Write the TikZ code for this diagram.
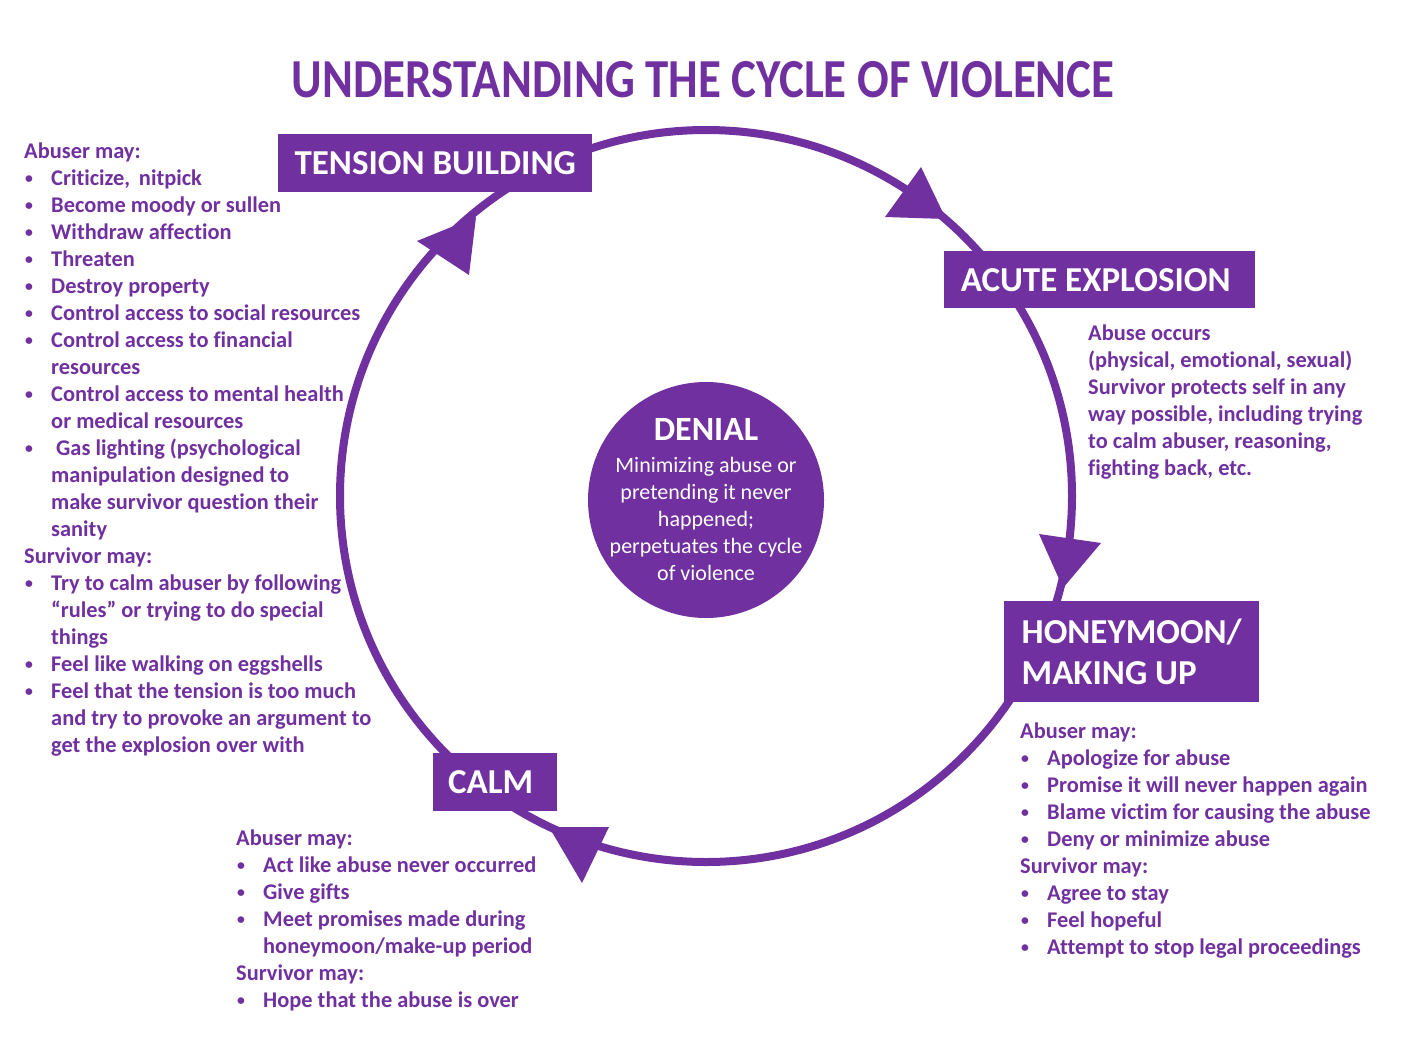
\documentclass[tikz,border=0pt]{standalone}
\usepackage{fontspec}
\setmainfont{Carlito}[Ligatures=CommonOff]
\definecolor{cyclepurple}{HTML}{7030A0}
\newcommand{\bul}[1]{\makebox[27pt][l]{\hspace{1pt}\raisebox{1.5pt}{\scalebox{0.7}{\textbullet}}}#1}
\newcommand{\cont}[1]{\hspace*{27pt}#1}

\begin{document}
\begin{tikzpicture}[
    x = 1pt, y = -1pt, % one unit per pixel, y runs down
    ring/.style = {draw = cyclepurple, line width = 8pt, circle,
        minimum size = 732pt, inner sep = 0pt, outer sep = 0pt},
    phase/.style = {fill = cyclepurple, text = white, anchor = north west,
        align = left, inner sep = 0pt, minimum height = 58pt,
        font = \fontsize{35}{41}\selectfont\bfseries},
    notes/.style = {anchor = north west, align = left, inner sep = 0pt,
        text = cyclepurple, font = \fontsize{22.4}{27}\selectfont\bfseries}
    ]

    \useasboundingbox (0,0) rectangle (1410,1052);

    \node[font = \fontsize{55}{60}\selectfont\bfseries, text = cyclepurple,
        anchor = base] (title) at (703,97)
        {\scalebox{0.853}[1]{UNDERSTANDING THE CYCLE OF VIOLENCE}};

    % the cycle itself
    \node[ring] (cycle) at (706,496) {};
    \foreach \ax/\ay/\bx/\by/\tx/\ty in {921/167/885/217/946/219,
        1039/534/1101/543/1063/588, 609/827/549/827/582/883,
        417/241/469/275/476/217}
        \fill[cyclepurple] (\ax,\ay) -- (\bx,\by) -- (\tx,\ty) -- cycle;

    \node[phase, minimum width = 314pt] (tension) at (278,134) {TENSION BUILDING};
    \node[phase, minimum width = 311pt, minimum height = 57pt] (acute) at (944,251) {ACUTE EXPLOSION\hspace{8pt}};
    \node[phase, minimum width = 255pt, minimum height = 101pt] (honey) at (1004,601) {HONEYMOON/\hspace{2pt}\\MAKING UP};
    \node[phase, minimum width = 124pt] (calm) at (433,753) {CALM\hspace{9pt}};

    \node[circle, fill = cyclepurple, minimum size = 236pt, inner sep = 0pt]
        (denial) at (706,500) {};
    \node[text = white, align = center, font = \fontsize{22}{27}\selectfont]
        (denialtext) at (denial) {{\fontsize{34}{34}\selectfont\bfseries DENIAL}\\[5pt]
        Minimizing abuse or\\ pretending it never\\ happened;\\
        perpetuates the cycle\\ of violence};

    \node[notes] (tensionnotes) at (24,139) {\strut Abuser may:\\
        \bul{Criticize,\, nitpick}\\
        \bul{Become moody or sullen}\\
        \bul{Withdraw affection}\\
        \bul{Threaten}\\
        \bul{Destroy property}\\
        \bul{Control access to social resources}\\
        \bul{Control access to financial}\\
        \cont{resources}\\
        \bul{Control access to mental health}\\
        \cont{or medical resources}\\
        \bul{\hspace{5pt}Gas lighting (psychological}\\
        \cont{manipulation designed to}\\
        \cont{make survivor question their}\\
        \cont{sanity}\\
        Survivor may:\\
        \bul{Try to calm abuser by following}\\
        \cont{“rules” or trying to do special}\\
        \cont{things}\\
        \bul{Feel like walking on eggshells}\\
        \bul{Feel that the tension is too much}\\
        \cont{and try to provoke an argument to}\\
        \cont{get the explosion over with}};

    \node[notes] (acutenotes) at (1088,321) {\strut Abuse occurs\\
        (physical, emotional, sexual)\\
        Survivor protects self in any\\
        way possible, including trying\\
        to calm abuser, reasoning,\\
        fighting back, etc.};

    \node[notes] (honeynotes) at (1020,719) {\strut Abuser may:\\
        \bul{Apologize for abuse}\\
        \bul{Promise it will never happen again}\\
        \bul{Blame victim for causing the abuse}\\
        \bul{Deny or minimize abuse}\\
        Survivor may:\\
        \bul{Agree to stay}\\
        \bul{Feel hopeful}\\
        \bul{Attempt to stop legal proceedings}};

    \node[notes] (calmnotes) at (236,826) {\strut Abuser may:\\
        \bul{Act like abuse never occurred}\\
        \bul{Give gifts}\\
        \bul{Meet promises made during}\\
        \cont{honeymoon/make-up period}\\
        Survivor may:\\
        \bul{Hope that the abuse is over}};
\end{tikzpicture}
\end{document}
